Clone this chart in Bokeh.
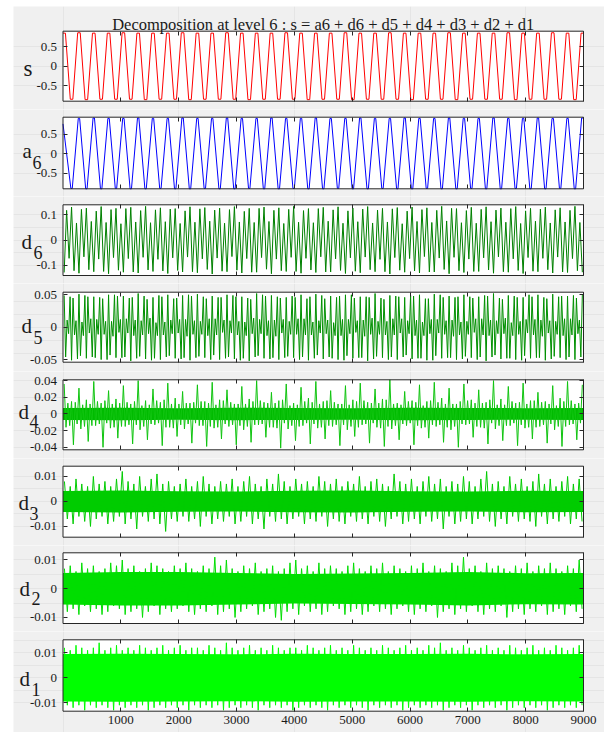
import numpy as np
from bokeh.plotting import figure
from bokeh.models import Range1d, FixedTicker, LinearAxis, Label, Spacer, CustomLabelingPolicy
from bokeh.layouts import column, row
from bokeh.embed import file_html
from bokeh.resources import INLINE

# ---------------- data ----------------
title_text = "Decomposition at level 6 : s = a6 + d6 + d5 + d4 + d3 + d2 + d1"
x_ticks = [1000, 2000, 3000, 4000, 5000, 6000, 7000, 8000, 9000]
x_tick_labels = ["1000", "2000", "3000", "4000", "5000", "6000", "7000", "8000", "9000"]
n_samples = 9000
period = 256          # samples per cycle of s
first_peak = 20       # sample of first crest of s
s_flat = 22           # half width of clipped crest (samples)
a6_flat = 12          # half width of rounded crest (samples)

s_peaks = [0.85, 0.86, 0.85, 0.85, 0.86, 0.85, 0.85, 0.85, 0.86, 0.85, 0.85, 0.86,
           0.85, 0.85, 0.85, 0.86, 0.85, 0.85, 0.85, 0.86, 0.85, 0.85, 0.86, 0.85,
           0.85, 0.85, 0.86, 0.85, 0.85, 0.85, 0.86, 0.85, 0.85, 0.86, 0.85, 0.85]
s_troughs = [-0.85, -0.86, -0.85, -0.85, -0.85, -0.86, -0.85, -0.85, -0.86, -0.85, -0.85, -0.85,
             -0.86, -0.85, -0.85, -0.85, -0.86, -0.85, -0.85, -0.86, -0.85, -0.85, -0.85, -0.86,
             -0.85, -0.85, -0.86, -0.85, -0.85, -0.85, -0.86, -0.85, -0.85, -0.85, -0.86]

a6_start = 0.76
a6_troughs = [-0.88, -0.89, -0.89, -0.88, -0.89, -0.89, -0.88, -0.89, -0.89, -0.88, -0.89, -0.89,
              -0.88, -0.89, -0.89, -0.88, -0.89, -0.89, -0.88, -0.89, -0.89, -0.88, -0.89, -0.89,
              -0.88, -0.89, -0.89, -0.88, -0.89, -0.89, -0.88, -0.89, -0.89, -0.88, -0.89]
a6_peaks = [0.90, 0.91, 0.90, 0.90, 0.91, 0.90, 0.90, 0.91, 0.90, 0.90, 0.91, 0.90,
            0.90, 0.91, 0.90, 0.90, 0.91, 0.90, 0.90, 0.91, 0.90, 0.90, 0.91, 0.90,
            0.90, 0.91, 0.90, 0.90, 0.91, 0.90, 0.90, 0.91, 0.90, 0.90, 0.91]

d6_rows = [
    [-0.128, 0.118, -0.072, 0.131, -0.121, 0.068], [-0.131, 0.122, -0.066, 0.127, -0.117, 0.074],
    [-0.125, 0.115, -0.075, 0.133, -0.124, 0.070], [-0.133, 0.121, -0.069, 0.126, -0.119, 0.065],
    [-0.127, 0.125, -0.073, 0.130, -0.126, 0.072], [-0.130, 0.117, -0.068, 0.134, -0.118, 0.069],
    [-0.124, 0.120, -0.076, 0.128, -0.122, 0.073], [-0.132, 0.123, -0.070, 0.125, -0.120, 0.066],
    [-0.126, 0.116, -0.067, 0.132, -0.125, 0.071], [-0.129, 0.124, -0.074, 0.129, -0.116, 0.075],
    [-0.134, 0.119, -0.071, 0.127, -0.123, 0.067], [-0.125, 0.121, -0.065, 0.133, -0.119, 0.072],
    [-0.130, 0.114, -0.073, 0.126, -0.127, 0.070], [-0.127, 0.126, -0.069, 0.131, -0.115, 0.074],
    [-0.133, 0.118, -0.075, 0.128, -0.121, 0.066], [-0.124, 0.122, -0.068, 0.134, -0.124, 0.071],
    [-0.131, 0.117, -0.072, 0.125, -0.118, 0.069], [-0.128, 0.125, -0.066, 0.130, -0.126, 0.075],
    [-0.126, 0.120, -0.074, 0.132, -0.120, 0.067], [-0.132, 0.116, -0.070, 0.127, -0.123, 0.073],
    [-0.129, 0.123, -0.067, 0.133, -0.117, 0.068], [-0.125, 0.119, -0.076, 0.126, -0.125, 0.072],
    [-0.134, 0.124, -0.069, 0.129, -0.119, 0.065], [-0.127, 0.115, -0.073, 0.131, -0.122, 0.074],
    [-0.130, 0.121, -0.065, 0.128, -0.126, 0.070], [-0.126, 0.118, -0.071, 0.134, -0.116, 0.076],
    [-0.133, 0.126, -0.068, 0.125, -0.121, 0.069], [-0.128, 0.117, -0.075, 0.130, -0.124, 0.067],
    [-0.124, 0.122, -0.070, 0.132, -0.118, 0.073], [-0.131, 0.119, -0.066, 0.127, -0.125, 0.071],
    [-0.127, 0.125, -0.074, 0.133, -0.120, 0.066], [-0.132, 0.116, -0.069, 0.126, -0.123, 0.075],
    [-0.125, 0.123, -0.072, 0.131, -0.117, 0.068], [-0.130, 0.120, -0.067, 0.128, -0.126, 0.072],
    [-0.128, 0.118, -0.073, 0.134, -0.121, 0.070]]
d6_tail = [-0.127]

d5_rows = [
    [0.049, -0.046, 0.011, -0.010, 0.047, -0.051, 0.045, -0.012, 0.010, -0.049],
    [0.051, -0.044, 0.008, -0.013, 0.049, -0.048, 0.047, -0.009, 0.013, -0.046],
    [0.047, -0.047, 0.012, -0.011, 0.046, -0.050, 0.044, -0.011, 0.009, -0.050],
    [0.050, -0.043, 0.009, -0.014, 0.050, -0.047, 0.048, -0.008, 0.012, -0.047],
    [0.048, -0.046, 0.013, -0.009, 0.045, -0.052, 0.046, -0.013, 0.011, -0.048],
    [0.052, -0.045, 0.010, -0.012, 0.048, -0.049, 0.043, -0.010, 0.014, -0.051],
    [0.046, -0.048, 0.007, -0.013, 0.049, -0.050, 0.047, -0.012, 0.008, -0.046],
    [0.050, -0.044, 0.011, -0.010, 0.044, -0.048, 0.045, -0.009, 0.012, -0.049],
    [0.049, -0.047, 0.012, -0.014, 0.050, -0.051, 0.048, -0.011, 0.010, -0.047],
    [0.051, -0.045, 0.009, -0.011, 0.047, -0.047, 0.044, -0.013, 0.013, -0.050],
    [0.048, -0.043, 0.013, -0.012, 0.046, -0.050, 0.046, -0.008, 0.011, -0.048],
    [0.050, -0.046, 0.010, -0.009, 0.049, -0.049, 0.047, -0.012, 0.009, -0.051],
    [0.047, -0.048, 0.008, -0.013, 0.045, -0.052, 0.043, -0.010, 0.014, -0.046],
    [0.052, -0.044, 0.012, -0.010, 0.050, -0.048, 0.048, -0.013, 0.010, -0.049],
    [0.049, -0.047, 0.011, -0.014, 0.047, -0.050, 0.045, -0.009, 0.012, -0.047],
    [0.046, -0.045, 0.009, -0.011, 0.048, -0.047, 0.046, -0.011, 0.013, -0.050],
    [0.050, -0.046, 0.013, -0.012, 0.044, -0.051, 0.047, -0.012, 0.008, -0.048],
    [0.051, -0.043, 0.010, -0.009, 0.049, -0.049, 0.044, -0.010, 0.011, -0.046],
    [0.048, -0.048, 0.007, -0.013, 0.046, -0.050, 0.048, -0.013, 0.012, -0.051],
    [0.050, -0.044, 0.012, -0.010, 0.050, -0.048, 0.045, -0.008, 0.010, -0.047],
    [0.047, -0.047, 0.011, -0.014, 0.047, -0.052, 0.046, -0.011, 0.014, -0.049],
    [0.052, -0.045, 0.009, -0.011, 0.045, -0.047, 0.043, -0.012, 0.009, -0.050],
    [0.049, -0.046, 0.013, -0.012, 0.048, -0.050, 0.047, -0.009, 0.013, -0.046],
    [0.046, -0.043, 0.010, -0.010, 0.049, -0.049, 0.048, -0.013, 0.011, -0.048],
    [0.050, -0.048, 0.008, -0.013, 0.044, -0.051, 0.044, -0.010, 0.012, -0.051],
    [0.051, -0.044, 0.012, -0.009, 0.050, -0.048, 0.046, -0.011, 0.010, -0.047],
    [0.048, -0.047, 0.011, -0.014, 0.046, -0.050, 0.047, -0.012, 0.008, -0.049],
    [0.050, -0.045, 0.009, -0.011, 0.047, -0.047, 0.045, -0.008, 0.013, -0.050],
    [0.047, -0.046, 0.013, -0.012, 0.049, -0.052, 0.048, -0.013, 0.011, -0.046],
    [0.052, -0.043, 0.010, -0.010, 0.045, -0.049, 0.043, -0.010, 0.014, -0.048],
    [0.049, -0.048, 0.007, -0.013, 0.048, -0.050, 0.046, -0.011, 0.009, -0.051],
    [0.046, -0.044, 0.012, -0.009, 0.050, -0.048, 0.047, -0.012, 0.012, -0.047],
    [0.050, -0.047, 0.011, -0.014, 0.046, -0.051, 0.044, -0.009, 0.010, -0.049],
    [0.051, -0.045, 0.009, -0.011, 0.047, -0.047, 0.048, -0.013, 0.013, -0.050],
    [0.048, -0.046, 0.013, -0.012, 0.049, -0.050, 0.045, -0.010, 0.011, -0.046]]
d5_tail = [0.050]

d4_rows = [
    [0.036, -0.016, 0.013, -0.014, 0.015, -0.037, 0.014, -0.012], [0.031, -0.018, 0.011, -0.015, 0.017, -0.033, 0.012, -0.014],
    [0.039, -0.014, 0.015, -0.012, 0.013, -0.040, 0.016, -0.011], [0.028, -0.017, 0.012, -0.016, 0.018, -0.029, 0.013, -0.015],
    [0.034, -0.015, 0.014, -0.013, 0.012, -0.036, 0.015, -0.013], [0.040, -0.019, 0.010, -0.015, 0.016, -0.031, 0.011, -0.012],
    [0.030, -0.013, 0.016, -0.011, 0.014, -0.038, 0.017, -0.016], [0.037, -0.016, 0.012, -0.017, 0.019, -0.027, 0.012, -0.013],
    [0.027, -0.018, 0.013, -0.012, 0.013, -0.035, 0.014, -0.011], [0.035, -0.014, 0.015, -0.014, 0.015, -0.039, 0.013, -0.015],
    [0.038, -0.017, 0.011, -0.016, 0.017, -0.030, 0.016, -0.012], [0.029, -0.015, 0.014, -0.013, 0.012, -0.037, 0.012, -0.014],
    [0.033, -0.019, 0.012, -0.015, 0.018, -0.034, 0.015, -0.013], [0.040, -0.013, 0.016, -0.012, 0.014, -0.028, 0.013, -0.016],
    [0.026, -0.016, 0.013, -0.017, 0.016, -0.041, 0.017, -0.011], [0.036, -0.018, 0.010, -0.014, 0.013, -0.032, 0.011, -0.015],
    [0.032, -0.014, 0.015, -0.011, 0.019, -0.036, 0.014, -0.012], [0.039, -0.017, 0.012, -0.016, 0.015, -0.030, 0.016, -0.014],
    [0.028, -0.015, 0.014, -0.013, 0.012, -0.038, 0.012, -0.013], [0.034, -0.019, 0.011, -0.015, 0.017, -0.027, 0.015, -0.016],
    [0.037, -0.013, 0.016, -0.012, 0.014, -0.035, 0.013, -0.011], [0.030, -0.016, 0.013, -0.017, 0.018, -0.039, 0.017, -0.015],
    [0.041, -0.018, 0.012, -0.014, 0.013, -0.031, 0.011, -0.012], [0.027, -0.014, 0.015, -0.011, 0.016, -0.037, 0.014, -0.014],
    [0.035, -0.017, 0.010, -0.016, 0.015, -0.029, 0.016, -0.013], [0.038, -0.015, 0.014, -0.013, 0.019, -0.034, 0.012, -0.016],
    [0.031, -0.019, 0.012, -0.015, 0.012, -0.040, 0.015, -0.012], [0.036, -0.013, 0.016, -0.012, 0.017, -0.028, 0.013, -0.015],
    [0.029, -0.016, 0.013, -0.017, 0.014, -0.036, 0.017, -0.011], [0.040, -0.018, 0.011, -0.014, 0.018, -0.032, 0.011, -0.014],
    [0.033, -0.014, 0.015, -0.011, 0.013, -0.038, 0.014, -0.013], [0.037, -0.017, 0.012, -0.016, 0.016, -0.030, 0.016, -0.016],
    [0.026, -0.015, 0.014, -0.013, 0.015, -0.035, 0.012, -0.012], [0.034, -0.019, 0.010, -0.015, 0.019, -0.039, 0.015, -0.015],
    [0.039, -0.013, 0.016, -0.012, 0.012, -0.031, 0.013, -0.011]]
d4_tail = [0.035]
d4_core = [0.0072, 0.0075, 0.007, 0.0074, 0.0072, 0.007, 0.0075, 0.0072, 0.007, 0.0073]

d3_hi = [0.008, 0.006, 0.009, 0.007, 0.006, 0.010, 0.007, 0.008, 0.006, 0.009,
         0.012, 0.008, 0.007, 0.010, 0.006, 0.009, 0.011, 0.007, 0.008, 0.006,
         0.007, 0.009, 0.006, 0.008, 0.010, 0.007, 0.006, 0.008, 0.007, 0.009,
         0.006, 0.008, 0.010, 0.007, 0.006, 0.009, 0.007, 0.011, 0.008, 0.006,
         0.009, 0.007, 0.008, 0.006, 0.010, 0.008, 0.007, 0.009, 0.006, 0.008,
         0.007, 0.010, 0.006, 0.008, 0.009, 0.007, 0.006, 0.011, 0.008, 0.007,
         0.009, 0.006, 0.008, 0.010, 0.007, 0.009, 0.006, 0.008, 0.007, 0.010,
         0.008, 0.006, 0.009, 0.012, 0.007, 0.008, 0.006, 0.010, 0.007, 0.009,
         0.006, 0.008, 0.011, 0.007, 0.009, 0.006, 0.008, 0.010, 0.007, 0.009]
d3_lo = [-0.007, -0.009, -0.006, -0.008, -0.010, -0.007, -0.006, -0.009, -0.008, -0.006,
         -0.009, -0.007, -0.011, -0.006, -0.008, -0.007, -0.009, -0.012, -0.007, -0.008,
         -0.006, -0.008, -0.007, -0.010, -0.006, -0.009, -0.007, -0.008, -0.006, -0.009,
         -0.008, -0.006, -0.009, -0.007, -0.011, -0.006, -0.008, -0.007, -0.009, -0.007,
         -0.006, -0.009, -0.007, -0.008, -0.006, -0.010, -0.007, -0.008, -0.009, -0.006,
         -0.008, -0.007, -0.009, -0.006, -0.008, -0.010, -0.007, -0.006, -0.009, -0.008,
         -0.007, -0.009, -0.006, -0.008, -0.007, -0.011, -0.006, -0.009, -0.008, -0.007,
         -0.009, -0.007, -0.006, -0.008, -0.010, -0.007, -0.009, -0.006, -0.008, -0.007,
         -0.008, -0.010, -0.006, -0.009, -0.007, -0.008, -0.006, -0.009, -0.007, -0.008]
d3_core = [0.0042, 0.0044, 0.0041, 0.004, 0.0043, 0.0044, 0.0041, 0.004, 0.0043, 0.0042]

d2_hi = [0.007, 0.008, 0.006, 0.009, 0.007, 0.008, 0.006, 0.007, 0.009, 0.008,
         0.010, 0.007, 0.008, 0.006, 0.007, 0.009, 0.008, 0.007, 0.006, 0.008,
         0.007, 0.009, 0.007, 0.006, 0.008, 0.007, 0.011, 0.008, 0.010, 0.007,
         0.006, 0.008, 0.007, 0.009, 0.006, 0.007, 0.008, 0.006, 0.007, 0.009,
         0.010, 0.007, 0.008, 0.006, 0.009, 0.007, 0.008, 0.007, 0.006, 0.008,
         0.009, 0.007, 0.006, 0.008, 0.007, 0.009, 0.006, 0.008, 0.007, 0.006,
         0.008, 0.007, 0.009, 0.006, 0.008, 0.007, 0.006, 0.009, 0.008, 0.011,
         0.007, 0.008, 0.006, 0.009, 0.007, 0.008, 0.007, 0.006, 0.008, 0.007,
         0.009, 0.006, 0.008, 0.007, 0.009, 0.007, 0.006, 0.008, 0.007, 0.010]
d2_lo = [-0.008, -0.007, -0.009, -0.006, -0.008, -0.007, -0.009, -0.008, -0.006, -0.007,
         -0.009, -0.008, -0.007, -0.010, -0.008, -0.006, -0.009, -0.007, -0.008, -0.007,
         -0.006, -0.008, -0.009, -0.007, -0.008, -0.006, -0.009, -0.008, -0.007, -0.010,
         -0.008, -0.007, -0.006, -0.009, -0.008, -0.007, -0.010, -0.011, -0.008, -0.007,
         -0.009, -0.006, -0.008, -0.007, -0.009, -0.008, -0.006, -0.007, -0.009, -0.008,
         -0.007, -0.009, -0.008, -0.006, -0.008, -0.007, -0.009, -0.007, -0.006, -0.008,
         -0.009, -0.007, -0.008, -0.006, -0.010, -0.008, -0.007, -0.009, -0.007, -0.008,
         -0.006, -0.008, -0.009, -0.007, -0.008, -0.006, -0.010, -0.008, -0.007, -0.009,
         -0.007, -0.008, -0.006, -0.009, -0.008, -0.007, -0.009, -0.006, -0.008, -0.007]
d2_core = [0.0055, 0.0058, 0.0058, 0.0055, 0.0051, 0.0053, 0.0055, 0.0058, 0.0054, 0.0055]

d1_hi = [0.012, 0.011, 0.013, 0.012, 0.011, 0.012, 0.014, 0.011, 0.012, 0.013,
         0.011, 0.012, 0.011, 0.013, 0.012, 0.011, 0.012, 0.013, 0.011, 0.012,
         0.013, 0.011, 0.012, 0.012, 0.011, 0.013, 0.012, 0.011, 0.014, 0.012,
         0.011, 0.012, 0.013, 0.011, 0.012, 0.011, 0.013, 0.012, 0.011, 0.012,
         0.012, 0.011, 0.013, 0.012, 0.011, 0.012, 0.013, 0.011, 0.012, 0.011,
         0.013, 0.012, 0.011, 0.012, 0.011, 0.013, 0.012, 0.011, 0.012, 0.013,
         0.011, 0.012, 0.011, 0.013, 0.012, 0.014, 0.011, 0.012, 0.011, 0.013,
         0.012, 0.011, 0.012, 0.013, 0.011, 0.012, 0.011, 0.013, 0.012, 0.011,
         0.012, 0.013, 0.011, 0.012, 0.011, 0.013, 0.012, 0.011, 0.012, 0.013]
d1_lo = [-0.011, -0.012, -0.011, -0.013, -0.011, -0.012, -0.011, -0.012, -0.013, -0.011,
         -0.012, -0.011, -0.012, -0.011, -0.013, -0.012, -0.011, -0.012, -0.011, -0.012,
         -0.011, -0.013, -0.011, -0.012, -0.011, -0.012, -0.011, -0.013, -0.012, -0.011,
         -0.012, -0.011, -0.012, -0.013, -0.011, -0.012, -0.011, -0.012, -0.011, -0.013,
         -0.012, -0.011, -0.012, -0.011, -0.012, -0.013, -0.011, -0.012, -0.011, -0.012,
         -0.011, -0.012, -0.013, -0.011, -0.012, -0.011, -0.012, -0.011, -0.013, -0.012,
         -0.011, -0.012, -0.011, -0.012, -0.011, -0.013, -0.012, -0.011, -0.012, -0.011,
         -0.013, -0.011, -0.012, -0.011, -0.012, -0.011, -0.013, -0.012, -0.011, -0.012,
         -0.011, -0.012, -0.011, -0.013, -0.012, -0.011, -0.012, -0.011, -0.012, -0.011]
d1_core = [0.0095, 0.0096, 0.0095, 0.0094, 0.0096, 0.0095, 0.0095, 0.0096, 0.0094, 0.0095]

# ---------------- build polylines from the read values ----------------
def plateau_wave(peaks, troughs, flat, start=None, peak_first_k=0):
    xs, ys = [], []
    if start is not None:
        xs.append(0.0); ys.append(start)
    events = []
    for k, v in enumerate(peaks):
        events.append((first_peak + (k + peak_first_k) * period, v))
    for k, v in enumerate(troughs):
        events.append((first_peak + period / 2 + k * period, v))
    events.sort()
    for c, v in events:
        xs += [max(c - flat, 0), min(c + flat, n_samples)]
        ys += [v, v]
    return np.array(xs), np.array(ys)

def zig(rows, tail):
    vals = [v for r in rows for v in r] + list(tail)
    step = period / len(rows[0])
    xs = first_peak + step * np.arange(len(vals))
    return xs, np.array(vals)

def hilo(hi, lo):
    xs, ys = [], []
    for k in range(len(hi)):
        xs += [25 + 100 * k, 75 + 100 * k]
        ys += [hi[k], lo[k]]
    return np.array(xs, dtype=float), np.array(ys)

core_x = np.array([0, 1000, 2000, 3000, 4000, 5000, 6000, 7000, 8000, 9000], dtype=float)

# ---------------- layout (page pixels) ----------------
FONT = "Liberation Serif"
TXT = "#1a1a1a"
BG = "#f0f0f0"
EDGE = "#262626"
PAGE_LEFT, PAGE_TOP = 13, 6
FIG_W = 591
BOX_L, BOX_R = 62.5, 583.0
box_tops = [30.7, 116.7, 204.3, 291.7, 379.3, 465.7, 552.3, 639.3]
box_bottoms = [100.7, 188.3, 275.0, 361.7, 449.3, 536.7, 623.0, 710.7]
fig_edges = [6, 109, 196, 283, 371, 458, 545, 631, 732]

ppx = (BOX_R - BOX_L) / n_samples
X_START = -(BOX_L - PAGE_LEFT) / ppx
X_END = n_samples + (PAGE_LEFT + FIG_W - BOX_R) / ppx

def make_panel(i, ylo, yhi, yticks, ylabels, show_x):
    top_pg, bot_pg = fig_edges[i], fig_edges[i + 1]
    T, B = box_tops[i], box_bottoms[i]
    ppy = (B - T) / (yhi - ylo)
    y0 = ylo - (bot_pg - B) / ppy
    y1 = yhi + (T - top_pg) / ppy
    p = figure(width=FIG_W, height=bot_pg - top_pg,
               x_range=Range1d(X_START, X_END), y_range=Range1d(y0, y1),
               output_backend="svg", toolbar_location=None,
               x_axis_location=None, y_axis_location=None,
               min_border=0, min_border_left=0, min_border_right=0,
               min_border_top=0, min_border_bottom=0,
               border_fill_color=BG, background_fill_color=BG, outline_line_color=None)
    p.quad(left=[0], right=[n_samples], bottom=[ylo], top=[yhi], fill_color="white", line_color=None)

    def add_axis(loc, ticks, labels, fixed, bounds, show, standoff):
        ax = LinearAxis(ticker=FixedTicker(ticks=ticks), fixed_location=fixed, bounds=bounds,
                        major_label_overrides=dict(zip(ticks, labels)))
        ax.axis_line_color = None
        ax.major_tick_in = 4
        ax.major_tick_out = 0
        ax.minor_tick_line_color = None
        ax.major_tick_line_color = EDGE
        ax.major_label_text_font = FONT
        ax.major_label_text_font_size = "13px"
        ax.major_label_text_color = TXT
        ax.major_label_standoff = standoff
        if not show:
            ax.major_label_policy = CustomLabelingPolicy(code="return []")
        p.add_layout(ax, loc)

    add_axis("left", yticks, ylabels, 0, (ylo, yhi), True, 6)
    add_axis("right", yticks, ylabels, n_samples, (ylo, yhi), False, 6)
    add_axis("below", x_ticks, x_tick_labels, ylo, (0, n_samples), show_x, 5)
    add_axis("above", x_ticks, x_tick_labels, yhi, (0, n_samples), False, 6)

    def to_data(px, py):
        return (px - BOX_L) / ppx, ylo + (B - py) / ppy

    return p, to_data

def add_text(p, to_data, px, py, text, size, align="left"):
    x, y = to_data(px, py)
    p.add_layout(Label(x=x, y=y, text=text, text_font=FONT, text_font_size=size,
                       text_color=TXT, text_align=align, text_baseline="alphabetic"))

panel_specs = [
    # main, sub, ylo, yhi, ticks, tick labels, main text (page x, baseline y), sub text
    ("s", None, -0.9, 0.9, [-0.5, 0, 0.5], ["-0.5", "0", "0.5"], (23, 68), None),
    ("a", "6", -0.89, 0.93, [-0.5, 0, 0.5], ["-0.5", "0", "0.5"], (22, 150.7), (32, 161.7)),
    ("d", "6", -0.14, 0.14, [-0.1, 0, 0.1], ["-0.1", "0", "0.1"], (21, 241.7), (33, 251.7)),
    ("d", "5", -0.054, 0.054, [-0.05, 0, 0.05], ["-0.05", "0", "0.05"], (21, 325), (33, 336.7)),
    ("d", "4", -0.043, 0.041, [-0.04, -0.02, 0, 0.02, 0.04],
     ["-0.04", "-0.02", "0", "0.02", "0.04"], (18, 411.7), (29, 420.7)),
    ("d", "3", -0.0143, 0.0141, [-0.01, 0, 0.01], ["-0.01", "0", "0.01"], (18, 502.7), (29, 513.3)),
    ("d", "2", -0.0121, 0.0125, [-0.01, 0, 0.01], ["-0.01", "0", "0.01"], (19, 588.3), (31, 598)),
    ("d", "1", -0.0134, 0.0152, [-0.01, 0, 0.01], ["-0.01", "0", "0.01"], (19, 678.3), (31, 689)),
]

series = []
x, y = plateau_wave(s_peaks, s_troughs, s_flat)
series.append([("line", x, y, "#ff0000")])
x, y = plateau_wave(a6_peaks, a6_troughs, a6_flat, start=a6_start, peak_first_k=1)
series.append([("line", x, y, "#0000ff")])
x, y = zig(d6_rows, d6_tail)
series.append([("line", x, y, "#008000")])
x, y = zig(d5_rows, d5_tail)
series.append([("line", x, y, "#009000")])
x, y = zig(d4_rows, d4_tail)
series.append([("core", core_x, np.array(d4_core), "#00bb00"), ("line", x, y, "#10c410")])
for hi, lo, cr, col in [(d3_hi, d3_lo, d3_core, "#00cc00"),
                        (d2_hi, d2_lo, d2_core, "#00de00"),
                        (d1_hi, d1_lo, d1_core, "#00ff00")]:
    x, y = hilo(hi, lo)
    series.append([("core", core_x, np.array(cr), col), ("line", x, y, col)])

figs = []
for i, (main, sub, ylo, yhi, yt, yl, mpos, spos) in enumerate(panel_specs):
    p, to_data = make_panel(i, ylo, yhi, yt, yl, i == len(panel_specs) - 1)
    for kind, x, y, col in series[i]:
        if kind == "line":
            p.line(x, y, line_color=col, line_width=1)
        else:
            p.varea(x=x, y1=-y, y2=y, fill_color=col)
    p.quad(left=[0], right=[n_samples], bottom=[ylo], top=[yhi], fill_color=None,
           line_color=EDGE, line_width=1)
    add_text(p, to_data, mpos[0], mpos[1], main, "23px" if main == "s" else "21px")
    if sub:
        add_text(p, to_data, spos[0], spos[1], sub, "18px")
    if i == 0:
        add_text(p, to_data, 322.75, 24, title_text, "16.5px", align="center")
    figs.append(p)

layout = row(Spacer(width=PAGE_LEFT, height=10),
             column(Spacer(width=10, height=PAGE_TOP), *figs, spacing=0), spacing=0)
open("out.html", "w").write(file_html(layout, INLINE))
